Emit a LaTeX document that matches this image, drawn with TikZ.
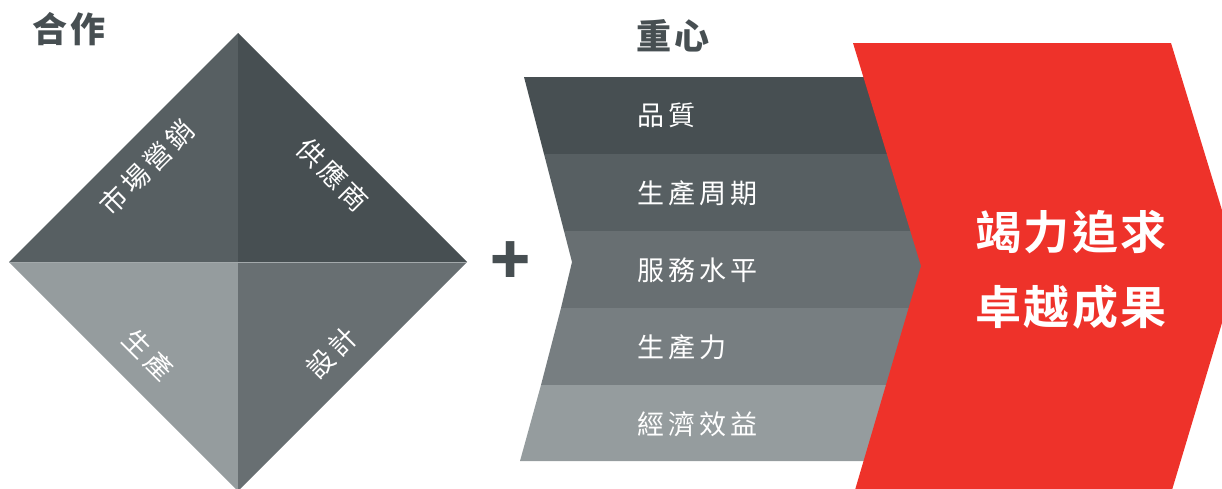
\documentclass[tikz,border=0pt]{standalone}
\usepackage{fontspec}
\newfontfamily\cjk[LetterSpace=15]{Noto Sans CJK TC}
\newfontfamily\cjkh[UprightFont={* Black},LetterSpace=8]{Noto Sans CJK TC}
\newfontfamily\cjkbs[UprightFont={* Bold},LetterSpace=5]{Noto Sans CJK TC}
\definecolor{dA}{HTML}{474F52}
\definecolor{dB}{HTML}{575F62}
\definecolor{dC}{HTML}{686F72}
\definecolor{dD}{HTML}{777E81}
\definecolor{dE}{HTML}{959C9E}
\definecolor{sep}{HTML}{A3A9AB}
\definecolor{redA}{HTML}{EE322A}
\tikzset{
  lbl/.style={text=white,font=\cjk\fontsize{27}{30}\selectfont,inner sep=0pt},
  ttl/.style={text=dA,font=\cjkh\fontsize{35}{40}\selectfont,inner sep=0pt},
  big/.style={text=white,font=\cjkbs\fontsize{46}{50}\selectfont,inner sep=0pt}
}
\begin{document}
\begin{tikzpicture}[x=1pt,y=-1pt]
\useasboundingbox (0,0) rectangle (1222,488);
\clip (0,0) rectangle (1222,488);
% diamond
\fill[dB] (238,33) -- (9,262) -- (238,262) -- cycle;
\fill[dA] (238,33) -- (467,262) -- (238,262) -- cycle;
\fill[dE] (9,262) -- (238,491) -- (238,262) -- cycle;
\fill[dC] (467,262) -- (238,491) -- (238,262) -- cycle;
\draw[sep,line width=1pt] (9,262) -- (467,262);
\node[lbl,rotate=45] (mkt) at (147,168) {市場營銷};
\node[lbl,rotate=-45] (sup) at (333,175) {供應商};
\node[lbl,rotate=-45] (prd) at (148,355) {生產};
\node[lbl,rotate=45] (dsg) at (332,353) {設計};
\node[ttl] (t1) at (69,29) {合作};
\node[ttl] (t2) at (673,36) {重心};
\node[text=dA,font=\cjkh\fontsize{66}{66}\selectfont,inner sep=0pt] (plus) at (511,263) {+};
% bands
\fill[dA] (524,77) -- (1000,77) -- (1000,154) -- (544,154) -- cycle;
\fill[dB] (544,154) -- (1000,154) -- (1000,231) -- (564,231) -- cycle;
\fill[dC] (564,231) -- (1000,231) -- (1000,262) -- (1000,308) -- (561,308) -- (572,262) -- cycle;
\fill[dD] (561,308) -- (1000,308) -- (1000,385) -- (541,385) -- cycle;
\fill[dE] (541,385) -- (1000,385) -- (1000,461) -- (520,461) -- cycle;
\node[lbl,anchor=west] (b1) at (637,115) {品質};
\node[lbl,anchor=west] (b2) at (637,193) {生產周期};
\node[lbl,anchor=west] (b3) at (637,270) {服務水平};
\node[lbl,anchor=west] (b4) at (637,347) {生產力};
\node[lbl,anchor=west] (b5) at (637,424) {經濟效益};
% red chevron
\fill[redA] (853,43) -- (1171,43) -- (1239,266) -- (1172,490) -- (855,490) -- (921,266) -- cycle;
\node[big] (r1) at (1071,232) {竭力追求};
\node[big] (r2) at (1071,307) {卓越成果};
\end{tikzpicture}
\end{document}
